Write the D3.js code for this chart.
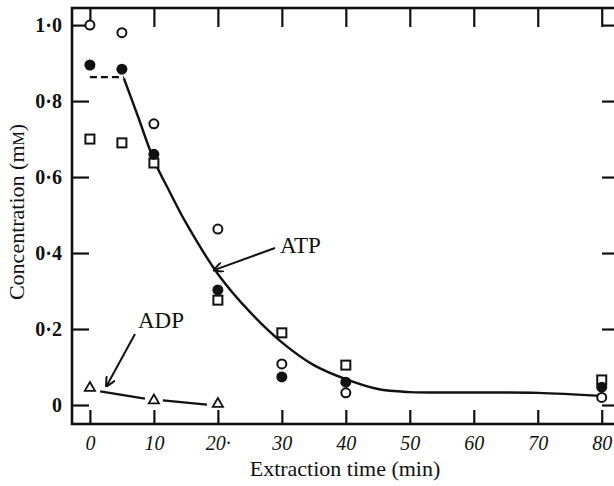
<!DOCTYPE html>
<html><head><meta charset="utf-8">
<script src="https://cdn.jsdelivr.net/npm/d3@7"></script>
<style>body{margin:0;background:#fff}svg{display:block}</style>
</head><body>
<script>
const times = [0, 5, 10, 20, 30, 40, 80];
const openCircle = [1.0, 0.98, 0.74, 0.463, 0.108, 0.032, 0.02];
const filledCircle = [0.895, 0.884, 0.66, 0.303, 0.074, 0.06, 0.047];
const openSquare = [0.70, 0.69, 0.637, 0.276, 0.19, 0.105, 0.066];
const adpTimes = [0, 10, 20];
const adpValues = [0.045, 0.012, 0.003];
const atpFitX = [5.3, 7.5, 10, 12.5, 15, 20, 25, 30, 35, 40, 45, 50, 60, 70, 80];
const atpFitY = [0.86, 0.76, 0.645, 0.56, 0.48, 0.345, 0.245, 0.165, 0.105, 0.068, 0.042, 0.034, 0.033, 0.032, 0.024];
const atpDashX = [0, 5.3];
const atpDashY = [0.863, 0.863];
const adpSeg1X = [1.6, 8.6];
const adpSeg1Y = [0.036, 0.017];
const adpSeg2X = [11.4, 18.3];
const adpSeg2Y = [0.012, 0.001];
const xTicks = [0, 10, 20, 30, 40, 50, 60, 70, 80];
const xTickLabels = ["0", "10", "20·", "30", "40", "50", "60", "70", "80"];
const yTicks = [0, 0.2, 0.4, 0.6, 0.8, 1.0];
const yTickLabels = ["0", "0·2", "0·4", "0·6", "0·8", "1·0"];

const W = 614, H = 486;
const L = 72, R = 619, T = 8, B = 424;
const x = d3.scaleLinear().domain([-2.8, 82.7]).range([L, R]);
const y = d3.scaleLinear().domain([-0.05, 1.045]).range([B, T]);
const font = "'Liberation Serif','Times New Roman',serif";

const svg = d3.select("body").append("svg").attr("width", W).attr("height", H);

// frame
svg.append("rect").attr("x", L).attr("y", T).attr("width", R - L).attr("height", B - T)
  .attr("fill", "none").attr("stroke", "#111").attr("stroke-width", 2.6);

// axes (ticks inward)
const bottomAxis = d3.axisBottom(x).tickValues(xTicks).tickSize(-14).tickFormat((d, i) => xTickLabels[i]).tickPadding(12);
const gB = svg.append("g").attr("transform", `translate(0,${B})`).call(bottomAxis);
gB.select(".domain").remove();
gB.selectAll(".tick line").attr("stroke", "#111").attr("stroke-width", 2.2);
gB.selectAll(".tick text").attr("font-family", font).attr("font-style", "italic").attr("font-size", 20).attr("fill", "#111");

const topAxis = d3.axisTop(x).tickValues(xTicks).tickSize(-19).tickFormat("");
const gT = svg.append("g").attr("transform", `translate(0,${T})`).call(topAxis);
gT.select(".domain").remove();
gT.selectAll(".tick line").attr("stroke", "#111").attr("stroke-width", 2.2);

const leftAxis = d3.axisLeft(y).tickValues(yTicks).tickSize(-17).tickFormat((d, i) => yTickLabels[i]).tickPadding(10);
const gL = svg.append("g").attr("transform", `translate(${L},0)`).call(leftAxis);
gL.select(".domain").remove();
gL.selectAll(".tick line").attr("stroke", "#111").attr("stroke-width", 2.2);
gL.selectAll(".tick text").attr("font-family", font).attr("font-weight", "bold").attr("font-size", 20).attr("fill", "#111");

const rightAxis = d3.axisRight(y).tickValues(yTicks).tickSize(-17).tickFormat("");
const gR = svg.append("g").attr("transform", `translate(${R},0)`).call(rightAxis);
gR.select(".domain").remove();
gR.selectAll(".tick line").attr("stroke", "#111").attr("stroke-width", 2.2);

// axis titles
svg.append("text").attr("x", 345).attr("y", 476).attr("text-anchor", "middle")
  .attr("font-family", font).attr("font-size", 22).attr("fill", "#111").text("Extraction time (min)");
const yt = svg.append("text").attr("transform", "translate(24,212) rotate(-90)").attr("text-anchor", "middle")
  .attr("font-family", font).attr("font-size", 22).attr("fill", "#111");
yt.append("tspan").text("Concentration (m");
yt.append("tspan").attr("font-size", 16).text("M");
yt.append("tspan").text(")");

// curves
const lineGen = d3.line().x(d => x(d[0])).y(d => y(d[1]));
svg.append("path").datum(atpFitX.map((v, i) => [v, atpFitY[i]]))
  .attr("d", lineGen.curve(d3.curveCatmullRom.alpha(0.5))).attr("fill", "none").attr("stroke", "#111").attr("stroke-width", 2.4);
svg.append("path").datum(atpDashX.map((v, i) => [v, atpDashY[i]]))
  .attr("d", d3.line().x(d => x(d[0])).y(d => y(d[1]))).attr("fill", "none").attr("stroke", "#111")
  .attr("stroke-width", 2.2).attr("stroke-dasharray", "7,4");
[[adpSeg1X, adpSeg1Y], [adpSeg2X, adpSeg2Y]].forEach(([xs, ys]) => {
  svg.append("path").datum(xs.map((v, i) => [v, ys[i]]))
    .attr("d", d3.line().x(d => x(d[0])).y(d => y(d[1]))).attr("fill", "none").attr("stroke", "#111").attr("stroke-width", 2.2);
});

// markers
svg.selectAll(".sq").data(times.map((t, i) => [t, openSquare[i]])).enter().append("rect")
  .attr("x", d => x(d[0]) - 4.5).attr("y", d => y(d[1]) - 4.5).attr("width", 9).attr("height", 9)
  .attr("fill", "#fff").attr("stroke", "#111").attr("stroke-width", 2);
svg.selectAll(".oc").data(times.map((t, i) => [t, openCircle[i]])).enter().append("circle")
  .attr("cx", d => x(d[0])).attr("cy", d => y(d[1])).attr("r", 4.5)
  .attr("fill", "#fff").attr("stroke", "#111").attr("stroke-width", 2);
svg.selectAll(".fc").data(times.map((t, i) => [t, filledCircle[i]])).enter().append("circle")
  .attr("cx", d => x(d[0])).attr("cy", d => y(d[1])).attr("r", 5.5).attr("fill", "#111");
const tri = d3.symbol().type(d3.symbolTriangle).size(45);
svg.selectAll(".tr").data(adpTimes.map((t, i) => [t, adpValues[i]])).enter().append("path")
  .attr("d", tri).attr("transform", d => `translate(${x(d[0])},${y(d[1])})`)
  .attr("fill", "#fff").attr("stroke", "#111").attr("stroke-width", 1.8);

// annotations
svg.append("defs").append("marker").attr("id", "ah").attr("viewBox", "0 0 10 10").attr("refX", 9).attr("refY", 5)
  .attr("markerWidth", 10).attr("markerHeight", 10).attr("markerUnits", "userSpaceOnUse").attr("orient", "auto")
  .append("path").attr("d", "M0,0 L10,5 L0,10").attr("fill", "none").attr("stroke", "#111").attr("stroke-width", 2);
svg.append("text").attr("x", 280).attr("y", 253).attr("font-family", font).attr("font-size", 23).attr("fill", "#111").text("ATP");
svg.append("line").attr("x1", 275).attr("y1", 248).attr("x2", x(19.4)).attr("y2", y(0.355))
  .attr("stroke", "#111").attr("stroke-width", 2).attr("marker-end", "url(#ah)");
svg.append("text").attr("x", 138).attr("y", 328).attr("font-family", font).attr("font-size", 23).attr("fill", "#111").text("ADP");
svg.append("line").attr("x1", 135).attr("y1", 334).attr("x2", x(2.6)).attr("y2", y(0.05))
  .attr("stroke", "#111").attr("stroke-width", 2).attr("marker-end", "url(#ah)");
</script>
</body></html>
